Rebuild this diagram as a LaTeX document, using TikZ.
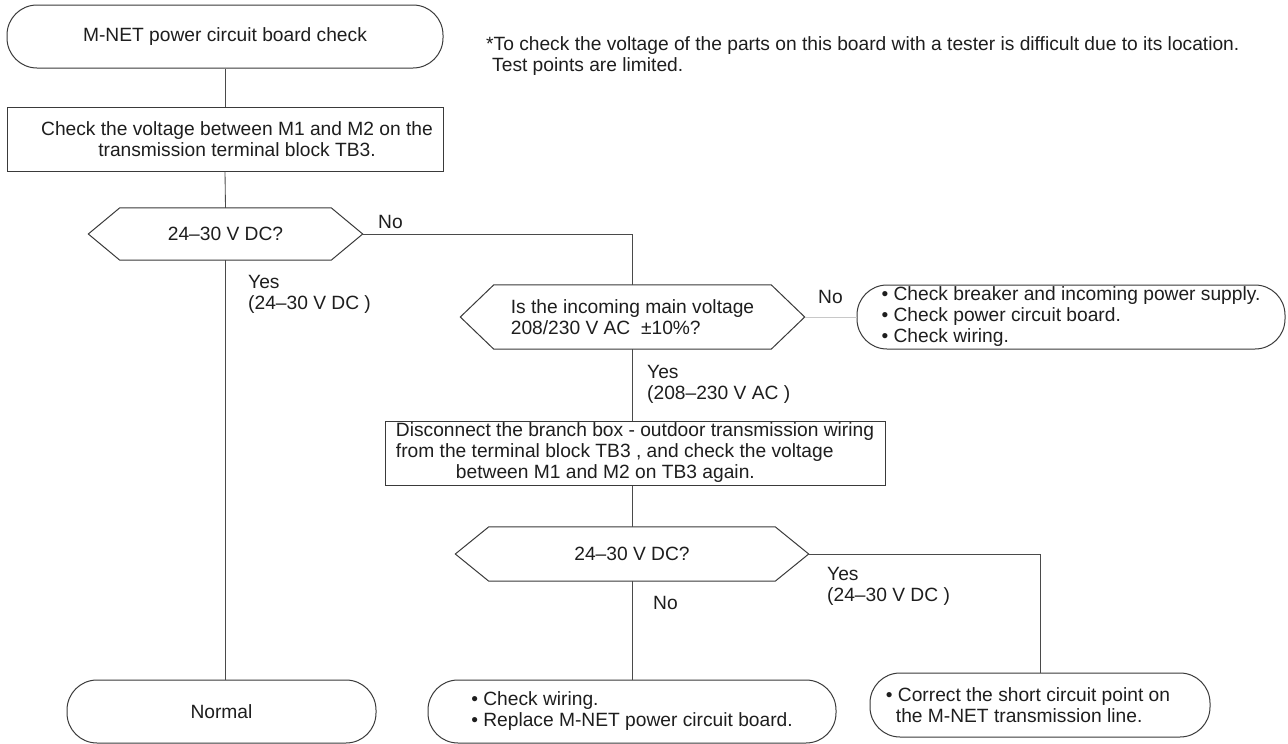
\documentclass[tikz,border=0pt]{standalone}
\usepackage{fontspec}
\setmainfont{Liberation Sans}
\definecolor{ln}{HTML}{3A3A3A}
\definecolor{cn}{HTML}{4A4A4A}
\definecolor{lightln}{HTML}{C8C8C8}
\definecolor{txt}{HTML}{1E1E1E}
\newcommand\fsz{\fontsize{19.2pt}{21pt}\selectfont}
\tikzset{
  every node/.style={text=txt, font=\fsz},
  term/.style={draw=ln, line width=1pt, rounded corners=30pt, inner sep=0pt, align=left},
  proc/.style={draw=ln, line width=1pt, inner sep=0pt, align=left},
  hexin/.style={inner sep=0pt, align=left},
  hexline/.style={draw=ln, line width=1pt},
  conn/.style={draw=cn, line width=0.85pt},
  lab/.style={anchor=west, inner sep=0pt, align=left},
}
\begin{document}
\begin{tikzpicture}[x=1pt,y=-1pt]
\useasboundingbox (0,0) rectangle (1288,744);
\fill[white] (0,0) rectangle (1288,744);

% terminals and boxes
\node[term, minimum width=436pt, minimum height=63pt] (start) at (225,36.5) {M-NET power circuit board check};
\node[proc, minimum width=436pt, minimum height=64pt, align=center] (b1) at (225,139)
  {\hspace*{24pt}Check the voltage between M1 and M2 on the\\\hspace*{24pt}transmission terminal block TB3.};

% hexagon 1
\node[hexin, minimum width=211pt, minimum height=52pt] (h1) at (225.5,234) {24–30 V DC?};
\draw[hexline] (h1.north west) -- (h1.north east) -- ([xshift=31.5pt]h1.east) coordinate (h1r)
  -- (h1.south east) -- (h1.south west) -- ([xshift=-31.5pt]h1.west) coordinate (h1l) -- cycle;

% hexagon 2
\node[hexin, minimum width=277pt, minimum height=64pt] (h2) at (632.5,317)
  {Is the incoming main voltage\\208/230 V AC \ ±10\%?};
\draw[hexline] (h2.north west) -- (h2.north east) -- ([xshift=33.5pt]h2.east) coordinate (h2r)
  -- (h2.south east) -- (h2.south west) -- ([xshift=-33.5pt]h2.west) coordinate (h2l) -- cycle;

\node[term, minimum width=428pt, minimum height=64pt] (t3) at (1071,317)
  {• Check breaker and incoming power supply.\\• Check power circuit board.\\• Check wiring.};

\node[proc, minimum width=500pt, minimum height=64pt] (b2) at (635,453)
  {\fontsize{19.2pt}{19.5pt}\selectfont Disconnect the branch box - outdoor transmission wiring\\from the terminal block TB3 , and check the voltage\\\hspace*{60pt}between M1 and M2 on TB3 again.};

% hexagon 3
\node[hexin, minimum width=286pt, minimum height=54pt] (h3) at (632,554) {24–30 V DC?};
\draw[hexline] (h3.north west) -- (h3.north east) -- ([xshift=33.5pt]h3.east) coordinate (h3r)
  -- (h3.south east) -- (h3.south west) -- ([xshift=-33.5pt]h3.west) coordinate (h3l) -- cycle;

\node[term, minimum width=309pt, minimum height=63pt] (normal) at (221.5,711.5) {Normal};
\node[term, minimum width=408pt, minimum height=63pt] (t4) at (632,711.5)
  {• Check wiring.\\• Replace M-NET power circuit board.};
\node[term, minimum width=340pt, minimum height=64pt] (t5) at (1040,705)
  {• Correct the short circuit point on\rule{24pt}{0pt}\\\hspace*{10pt}the M-NET transmission line.};

% labels
\node[lab] (no1) at (378,222) {No};
\node[lab] (yes1) at (248,294.5) {Yes\\(24–30 V DC )};
\node[lab] (no2) at (818,297) {No};
\node[lab] (yes2) at (647,384) {Yes\\(208–230 V AC )};
\node[lab] (yes3) at (827,586) {Yes\\(24–30 V DC )};
\node[lab] (no3) at (653,603) {No};
\node[lab] (note) at (486,56) {*To check the voltage of the parts on this board with a tester is difficult due to its location.\\\hspace*{6pt}Test points are limited.};

% connectors
\draw[conn] (start.south) -- (b1.north);
\draw[conn] (b1.south) -- (h1.north);
\draw[conn] (h1r) -| (h2.north);
\draw[conn] (h1.south) -- (h1.south |- normal.north);
\draw[conn, draw=lightln] (h2r) -- (t3.west);
\draw[conn] (h2.south) -- (h2.south |- b2.north);
\draw[conn] (h3.north |- b2.south) -- (h3.north);
\draw[conn] (h3r) -| (t5.north);
\draw[conn] (h3.south) -- (t4.north);
\end{tikzpicture}
\end{document}
